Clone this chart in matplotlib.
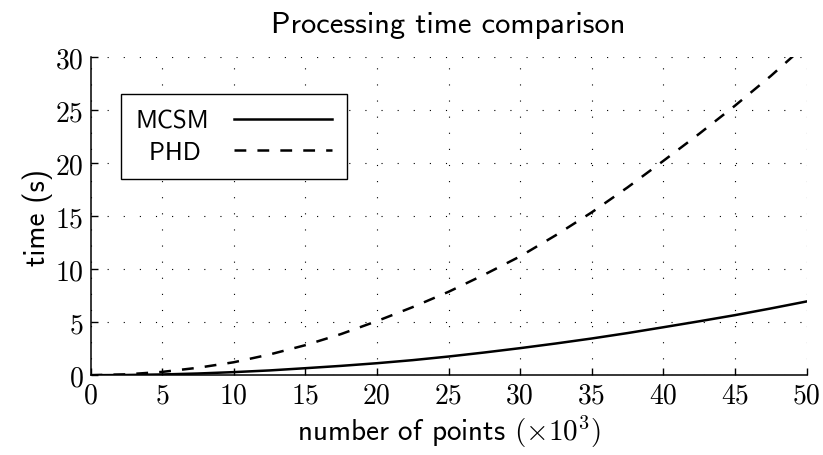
import matplotlib
matplotlib.use("Agg")
import matplotlib.pyplot as plt

# dados
pontos = [0, 2.5, 5, 7.5, 10, 12.5, 15, 17.5, 20, 22.5, 25, 27.5, 30,
          32.5, 35, 37.5, 40, 42.5, 45, 47.5, 50]
mcsm = [0, 0.02, 0.07, 0.16, 0.29, 0.45, 0.66, 0.88, 1.13, 1.42, 1.76, 2.14,
        2.55, 2.99, 3.46, 3.97, 4.52, 5.08, 5.66, 6.29, 6.95]
phd = [0, 0.08, 0.31, 0.70, 1.22, 1.95, 2.83, 3.88, 5.10, 6.42, 7.86, 9.48,
       11.2, 13.2, 15.35, 17.7, 20.2, 22.75, 25.4, 28.2, 31.2]
xticks = [0, 5, 10, 15, 20, 25, 30, 35, 40, 45, 50]
yticks = [0, 5, 10, 15, 20, 25, 30]

plt.rcParams["mathtext.fontset"] = "cm"
plt.rcParams["lines.scale_dashes"] = False
plt.rcParams["font.family"] = "cmss10"
plt.rcParams["axes.unicode_minus"] = False

fig = plt.figure(figsize=(8.23, 4.56), dpi=100)
ax = fig.add_axes([0.110, 0.175, 0.870, 0.698])

ax.plot(pontos, mcsm, color="black", lw=1.8, label="MCSM")
ax.plot(pontos, phd, color="black", lw=1.8, dashes=(8.5, 8), label="PHD ")

ax.set_xlim(0, 50)
ax.set_ylim(0, 30)
ax.set_xticks(xticks)
ax.set_yticks(yticks)
ax.set_xticklabels([str(t) for t in xticks], fontfamily="cmr10", fontsize=20)
ax.set_yticklabels([str(t) for t in yticks], fontfamily="cmr10", fontsize=20)
ax.tick_params(direction="in", length=5, width=1, pad=5)

ax.spines["top"].set_visible(False)
ax.spines["right"].set_visible(False)
for s in ["left", "bottom"]:
    ax.spines[s].set_linewidth(1.1)

ax.grid(True, color="black", lw=0.8, dashes=(0.8, 10.8))

ax.set_title("Processing time comparison", fontsize=22, pad=18)
ax.set_xlabel(r"number of points $(\times10^3)$", fontsize=21, labelpad=3)
ax.set_ylabel("time (s)", fontsize=21, labelpad=2)

leg = ax.legend(loc="upper left", bbox_to_anchor=(0.042, 0.882),
                markerfirst=False, fancybox=False, framealpha=1,
                edgecolor="black", fontsize=18, handlelength=3.9,
                borderpad=0.6, labelspacing=0.35, handletextpad=1.0,
                borderaxespad=0)
leg.get_frame().set_linewidth(1.0)

fig.savefig("out.png", dpi=100)
